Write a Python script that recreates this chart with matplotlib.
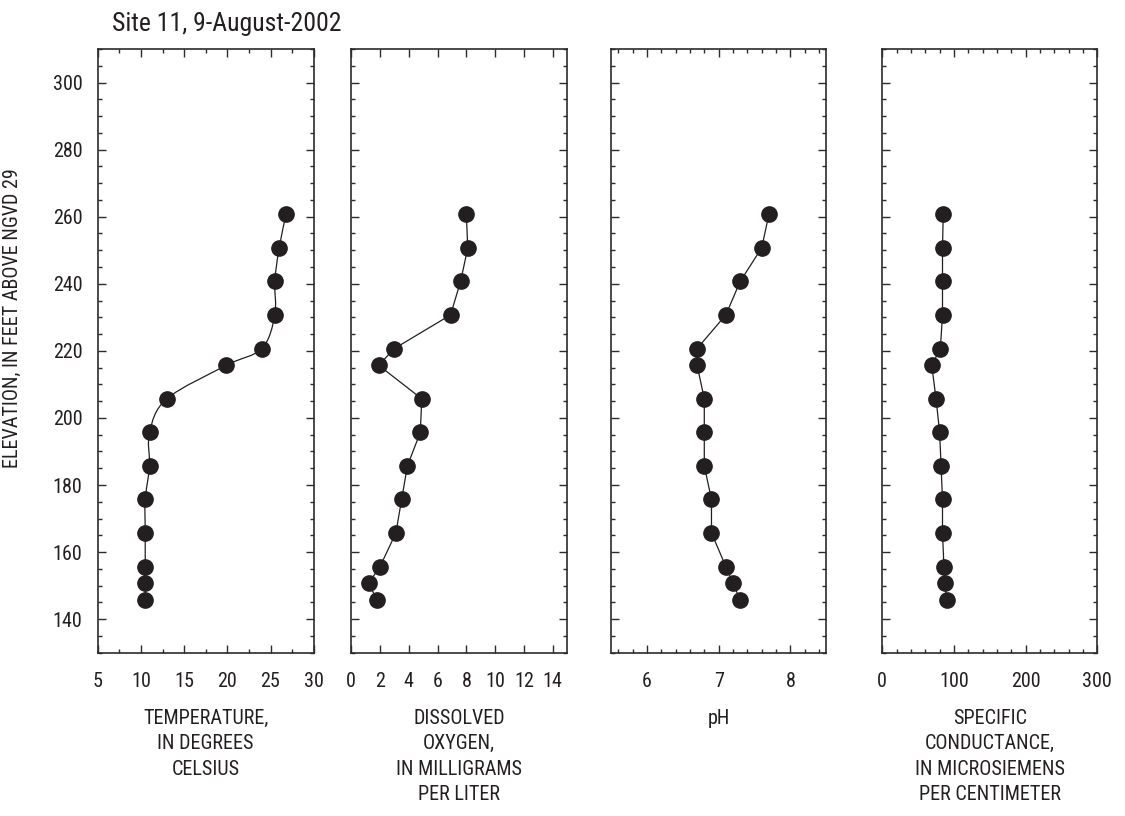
import matplotlib
matplotlib.use("Agg")
import matplotlib.pyplot as plt
from matplotlib import font_manager
from matplotlib.path import Path
from matplotlib.patches import PathPatch
from matplotlib.ticker import MultipleLocator

# Sampling elevations, feet above NGVD 29
elevation = [260.7, 250.7, 240.7, 230.7, 220.7, 215.7, 205.7,
             195.7, 185.7, 175.7, 165.7, 155.7, 150.7, 145.7]

temperature = [26.8, 26.0, 25.5, 25.5, 24.0, 19.9, 13.0,
               11.0, 11.0, 10.5, 10.5, 10.5, 10.5, 10.5]
dissolved_oxygen = [8.0, 8.1, 7.6, 6.9, 3.0, 1.9, 4.9,
                    4.8, 3.9, 3.5, 3.1, 2.0, 1.2, 1.8]
ph = [7.7, 7.6, 7.3, 7.1, 6.7, 6.7, 6.8,
      6.8, 6.8, 6.9, 6.9, 7.1, 7.2, 7.3]
conductance = [85, 84, 84, 84, 81, 69, 75,
               80, 82, 84, 84, 86, 87, 90]

title = "Site 11, 9-August-2002"
ylabel = "ELEVATION, IN FEET ABOVE NGVD 29"
xlabels = ["TEMPERATURE,\nIN DEGREES\nCELSIUS",
           "DISSOLVED\nOXYGEN,\nIN MILLIGRAMS\nPER LITER",
           "pH",
           "SPECIFIC\nCONDUCTANCE,\nIN MICROSIEMENS\nPER CENTIMETER"]
xlims = [(5, 30), (0, 15), (5.5, 8.5), (0, 300)]
xmajor = [5, 2, 1, 100]
xminor = [2.5, None, 0.2, 20]
xticks_shown = [[5, 10, 15, 20, 25, 30],
                [0, 2, 4, 6, 8, 10, 12, 14],
                [6, 7, 8],
                [0, 100, 200, 300]]
series = [temperature, dissolved_oxygen, ph, conductance]
smooth = [True, False, False, False]


# Pick a narrow sans face if one is installed
def pick_condensed():
    entries = font_manager.fontManager.ttflist
    names = {f.name for f in entries}
    for fam in ['Liberation Sans Narrow', 'Roboto Condensed',
                'Open Sans Condensed', 'Noto Sans Condensed',
                'DejaVu Sans Condensed']:
        if fam in names:
            return fam, 'normal'
    for f in entries:
        st = str(f.stretch).lower()
        if ('condensed' in st or 'narrow' in f.name.lower()
                or 'condensed' in f.name.lower()) and 'mono' not in f.name.lower() \
                and 'serif' not in f.name.lower():
            return f.name, f.stretch
    return 'Liberation Sans', 'normal'


fam, stretch = pick_condensed()
plt.rcParams['font.family'] = [fam, 'DejaVu Sans']
plt.rcParams['font.stretch'] = stretch

INK = '#231f20'
SPINE = '#2b2b2b'

W, H = 1125, 816
fig = plt.figure(figsize=(W / 100, H / 100), dpi=100)

# panel frames in pixels: (left, right)
frames = [(97.7, 313.7), (351.3, 567.0), (611.0, 826.3), (882.3, 1097.3)]
top_px, bottom_px = 49.0, 652.7


def catmull_rom_path(xs, ys):
    pts = list(zip(xs, ys))
    verts = [pts[0]]
    codes = [Path.MOVETO]
    n = len(pts)
    for i in range(n - 1):
        p0 = pts[i - 1] if i > 0 else pts[i]
        p1 = pts[i]
        p2 = pts[i + 1]
        p3 = pts[i + 2] if i + 2 < n else pts[i + 1]
        c1 = (p1[0] + (p2[0] - p0[0]) / 6, p1[1] + (p2[1] - p0[1]) / 6)
        c2 = (p2[0] - (p3[0] - p1[0]) / 6, p2[1] - (p3[1] - p1[1]) / 6)
        verts += [c1, c2, p2]
        codes += [Path.CURVE4] * 3
    return Path(verts, codes)


for k, (l, r) in enumerate(frames):
    ax = fig.add_axes([l / W, 1 - bottom_px / H, (r - l) / W,
                       (bottom_px - top_px) / H])
    xs = series[k]
    if smooth[k]:
        ax.add_patch(PathPatch(catmull_rom_path(xs, elevation), fill=False,
                               edgecolor=INK, linewidth=0.9, zorder=2))
    else:
        ax.plot(xs, elevation, color=INK, linewidth=0.9, zorder=2)
    ax.plot(xs, elevation, linestyle='none', marker='o', markersize=11,
            markerfacecolor=INK, markeredgecolor=INK, zorder=3,
            clip_on=False)

    ax.set_xlim(*xlims[k])
    ax.set_ylim(130, 310)
    ax.xaxis.set_major_locator(MultipleLocator(xmajor[k]))
    if xminor[k]:
        ax.xaxis.set_minor_locator(MultipleLocator(xminor[k]))
    ax.set_xticks(xticks_shown[k])
    ax.yaxis.set_major_locator(MultipleLocator(20))
    ax.yaxis.set_minor_locator(MultipleLocator(5))
    ax.set_yticks(range(140, 301, 20))

    ax.tick_params(which='both', direction='in', top=True, right=True,
                   color=SPINE, width=1.0, labelcolor=INK, labelsize=14.5)
    ax.tick_params(which='major', length=6)
    ax.tick_params(which='minor', length=3)
    ax.tick_params(axis='x', which='major', pad=14)
    ax.tick_params(axis='y', which='major', pad=11)
    if k > 0:
        ax.tick_params(axis='y', labelleft=False)
    for s in ax.spines.values():
        s.set_color(SPINE)
        s.set_linewidth(1.2)

    cx = (l + r) / 2 / W
    fig.text(cx, 1 - 709 / H, xlabels[k], ha='center', va='top',
             fontsize=14.5, color=INK, linespacing=1.42)

fig.text(112 / W, 1 - 30.5 / H, title, ha='left', va='baseline',
         fontsize=18.5, color=INK)
fig.text(12 / W, 1 - 318 / H, ylabel, ha='center', va='center',
         rotation=90, fontsize=14.5, color=INK)

fig.savefig('out.png', dpi=100)
